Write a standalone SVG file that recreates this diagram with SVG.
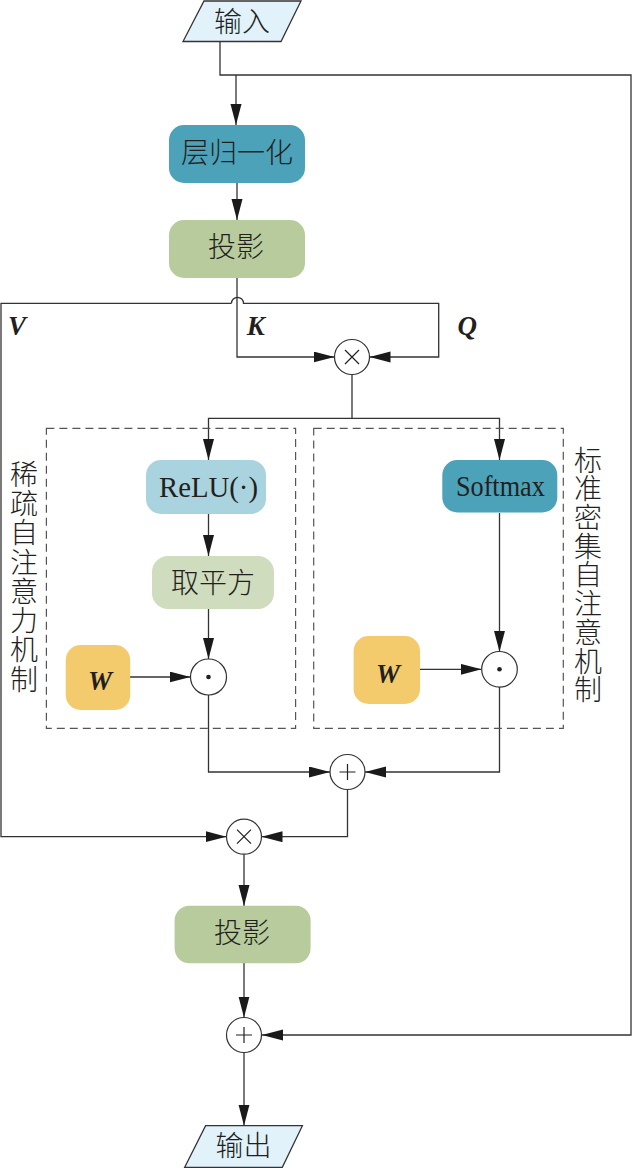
<svg xmlns="http://www.w3.org/2000/svg" width="632" height="1168" viewBox="0 0 632 1168">
<defs>
<marker id="arr" markerUnits="userSpaceOnUse" markerWidth="22" markerHeight="12" refX="21" refY="5.5" orient="auto">
<path d="M0,0 L21,5.5 L0,11 z" fill="#1a1a1a"/>
</marker>
<style>
.cn{font-family:"Noto Sans CJK SC","Noto Sans",sans-serif;font-size:28px;font-weight:300;fill:#231f20;text-anchor:middle}
.vt{font-family:"Noto Sans CJK SC","Noto Sans",sans-serif;font-size:28px;font-weight:300;fill:#231f20;text-anchor:start;writing-mode:vertical-rl}
.lat{font-family:"Liberation Serif","Times New Roman",serif;font-size:30px;fill:#231f20;text-anchor:middle}
.var{font-family:"Liberation Serif","Times New Roman",serif;font-size:27px;font-weight:bold;font-style:italic;fill:#231f20}
.ln{fill:none;stroke:#333;stroke-width:1.3}
.op{fill:#fff;stroke:#333;stroke-width:1.2}
.sym{fill:none;stroke:#231f20;stroke-width:1.2}
.dash{fill:none;stroke:#555;stroke-width:1.2;stroke-dasharray:8 5}
.io{fill:#e1f2fb;stroke:#333;stroke-width:1.3}
</style>
</defs>
<rect width="632" height="1168" fill="#fff"/>

<g id="connectors">
<path class="ln" d="M220,41.5 L220,75 L631,75 L631,1035 L262,1035" marker-end="url(#arr)"/>
<path class="ln" d="M236,75 L236,125" marker-end="url(#arr)"/>
<path class="ln" d="M237,183 L237,220" marker-end="url(#arr)"/>
<path class="ln" d="M237,278 L237,357 L334.5,357" marker-end="url(#arr)"/>
<path class="ln" d="M231.5,303.3 L1,303.3 L1,836.7 L226.5,836.7" marker-end="url(#arr)"/>
<path class="ln" d="M231.5,303.3 A6,6 0 0 1 243.5,303.3 L438.7,303.3 L438.7,357 L369.5,357" marker-end="url(#arr)"/>
<path class="ln" d="M352,374.5 L352,418.3 L208.5,418.3 L208.5,460" marker-end="url(#arr)"/>
<path class="ln" d="M352,418.3 L499.5,418.3 L499.5,460" marker-end="url(#arr)"/>
<path class="ln" d="M208.5,514 L208.5,556" marker-end="url(#arr)"/>
<path class="ln" d="M208.5,609 L208.5,659" marker-end="url(#arr)"/>
<path class="ln" d="M130,677 L190.5,677" marker-end="url(#arr)"/>
<path class="ln" d="M499.5,513 L499.5,651.8" marker-end="url(#arr)"/>
<path class="ln" d="M420,669.3 L481.5,669.3" marker-end="url(#arr)"/>
<path class="ln" d="M208.5,695 L208.5,772 L330,772" marker-end="url(#arr)"/>
<path class="ln" d="M499.5,687 L499.5,772 L365,772" marker-end="url(#arr)"/>
<path class="ln" d="M347.5,789.5 L347.5,836.7 L261.5,836.7" marker-end="url(#arr)"/>
<path class="ln" d="M244,854.2 L244,906" marker-end="url(#arr)"/>
<path class="ln" d="M244,963 L244,1017.5" marker-end="url(#arr)"/>
<path class="ln" d="M244,1052.5 L244,1125.7" marker-end="url(#arr)"/>
</g>

<g id="group-sparse">
<rect class="dash" x="46.4" y="428.3" width="249.2" height="300"/>
<text class="vt" x="24" y="460" letter-spacing="1.3">稀疏自注意力机制</text>
</g>
<g id="group-dense">
<rect class="dash" x="313.7" y="428.3" width="249.6" height="300"/>
<text class="vt" x="588" y="446" letter-spacing="0.7">标准密集自注意机制</text>
</g>

<g id="input">
<polygon class="io" points="204,1 301,1 281,41.5 183,41.5"/>
<text class="cn" x="242" y="31.5">输入</text>
</g>
<g id="layernorm">
<rect x="169" y="125" width="136" height="58" rx="15" fill="#4ba2b9"/>
<text class="cn" x="237" y="163">层归一化</text>
</g>
<g id="proj1">
<rect x="169" y="220" width="136" height="58" rx="15" fill="#b7cb9d"/>
<text class="cn" x="236" y="257">投影</text>
</g>
<g id="labels">
<text class="var" x="8" y="335">V</text>
<text class="var" x="246.7" y="335">K</text>
<text class="var" x="457.6" y="335">Q</text>
</g>
<g id="mul1">
<circle class="op" cx="352" cy="357" r="17.5"/>
<path class="sym" d="M345,350 L359,364 M359,350 L345,364"/>
</g>
<g id="relu">
<rect x="146" y="460" width="120" height="54" rx="15" fill="#a9d3de"/>
<text class="lat" x="208.5" y="496.5" textLength="99" lengthAdjust="spacingAndGlyphs">ReLU(·)</text>
</g>
<g id="square">
<rect x="152" y="556" width="122" height="53" rx="16" fill="#cfdcbd"/>
<text class="cn" x="213" y="593">取平方</text>
</g>
<g id="w1">
<rect x="65.7" y="645" width="64.5" height="65" rx="15" fill="#f4cb6c"/>
<text class="var" x="100" y="690" text-anchor="middle" font-size="28">W</text>
</g>
<g id="had1">
<circle class="op" cx="208.5" cy="677" r="18"/>
<circle cx="208.5" cy="677" r="2.3" fill="#231f20"/>
</g>
<g id="softmax">
<rect x="442.3" y="460" width="115" height="52.5" rx="15" fill="#4ba2b9"/>
<text class="lat" x="500.4" y="496" textLength="89" lengthAdjust="spacingAndGlyphs">Softmax</text>
</g>
<g id="w2">
<rect x="353.6" y="636" width="66.4" height="68" rx="15" fill="#f4cb6c"/>
<text class="var" x="388" y="683" text-anchor="middle" font-size="28">W</text>
</g>
<g id="had2">
<circle class="op" cx="499.5" cy="669.3" r="17.8"/>
<circle cx="499.5" cy="669.3" r="2.3" fill="#231f20"/>
</g>
<g id="add1">
<circle class="op" cx="347.5" cy="772" r="17.5"/>
<path class="sym" d="M347.5,764 L347.5,780 M339.5,772 L355.5,772"/>
</g>
<g id="mul2">
<circle class="op" cx="244" cy="836.7" r="17.5"/>
<path class="sym" d="M237,829.7 L251,843.7 M251,829.7 L237,843.7"/>
</g>
<g id="proj2">
<rect x="174.6" y="905.7" width="136" height="57.6" rx="15" fill="#b7cb9d"/>
<text class="cn" x="242" y="943">投影</text>
</g>
<g id="add2">
<circle class="op" cx="244" cy="1035" r="17.5"/>
<path class="sym" d="M244,1027 L244,1043 M236,1035 L252,1035"/>
</g>
<g id="output">
<polygon class="io" points="205.6,1125.7 302.4,1125.7 282.3,1167.3 184.7,1167.3"/>
<text class="cn" x="243.4" y="1156">输出</text>
</g>
</svg>
